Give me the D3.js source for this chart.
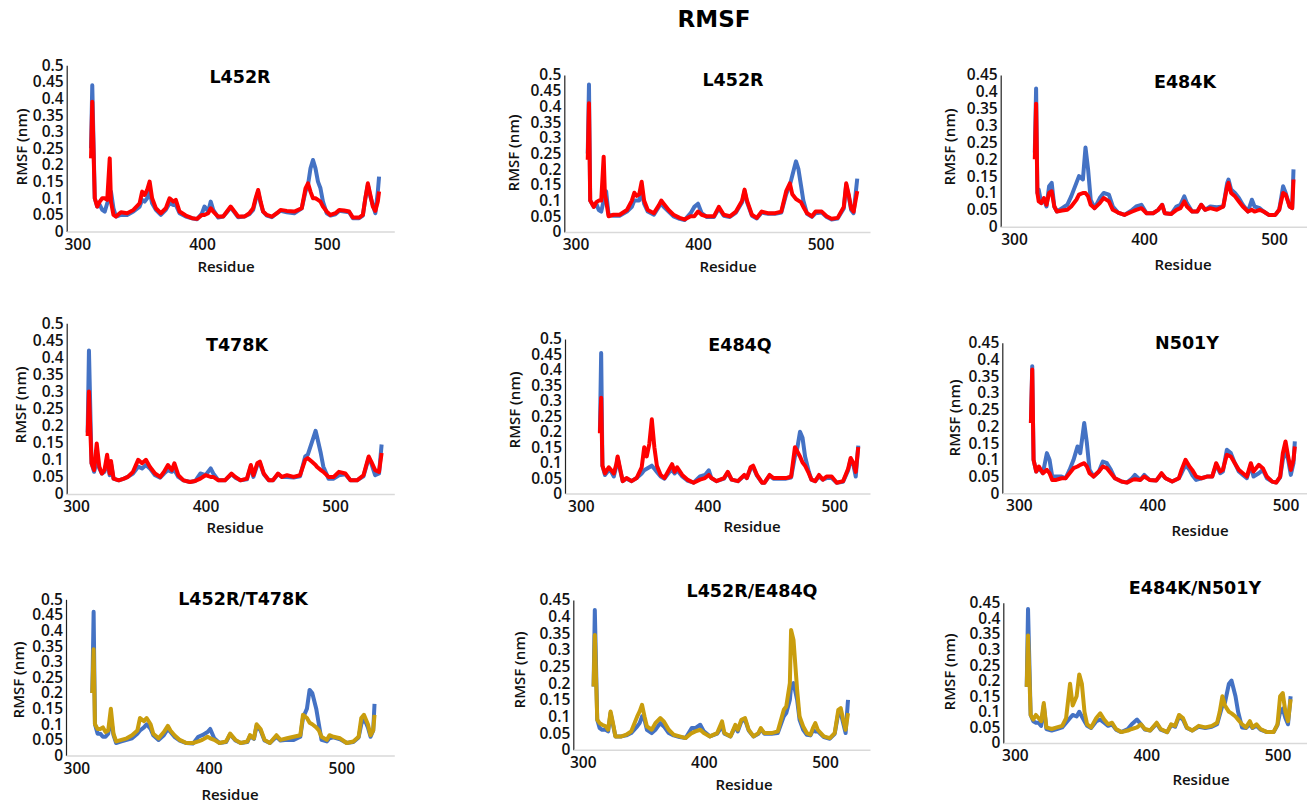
<!DOCTYPE html>
<html>
<head>
<meta charset="utf-8">
<script src="https://cdn.jsdelivr.net/npm/d3@7"></script>
<style>
  body { margin: 0; background: #fff; }
  svg text { font-family: "DejaVu Sans", sans-serif; }
  .tick text, .axis-title { font-family: "Open Sans", sans-serif; font-weight: 600; }
</style>
</head>
<body>
<svg id="chart" width="1307" height="805"></svg>
<script>
// RMSF (nm) per residue. wt = blue, mut = red / gold.

// A: L452R (top left)
const resA = [311,312,314,316,318,320,322,324,326,327,329,331,335,340,345,350,352,354,356,358,360,363,367,371,374,377,379,382,387,392,396,400,402,405,407,409,413,417,420,423,426,429,434,438,441,443,445,447,449,452,456,460,463,468,474,480,483,485,487,489,491,493,495,497,500,503,507,510,514,518,521,526,529,531,533,535,537,539,541,542];
const wtA  = [0.25,0.44,0.10,0.075,0.08,0.065,0.06,0.085,0.10,0.12,0.07,0.045,0.05,0.05,0.06,0.075,0.095,0.09,0.10,0.12,0.085,0.065,0.05,0.065,0.085,0.08,0.08,0.055,0.045,0.04,0.037,0.055,0.075,0.06,0.09,0.065,0.042,0.045,0.058,0.072,0.058,0.043,0.045,0.052,0.065,0.095,0.12,0.085,0.06,0.048,0.043,0.055,0.062,0.058,0.055,0.07,0.12,0.14,0.19,0.215,0.19,0.15,0.13,0.09,0.055,0.048,0.052,0.062,0.06,0.058,0.04,0.04,0.048,0.10,0.14,0.105,0.08,0.055,0.12,0.165];
const mutA = [0.22,0.39,0.10,0.075,0.09,0.10,0.10,0.095,0.22,0.09,0.05,0.045,0.058,0.055,0.065,0.085,0.12,0.11,0.125,0.15,0.10,0.07,0.055,0.07,0.10,0.09,0.095,0.06,0.048,0.04,0.038,0.05,0.05,0.055,0.07,0.06,0.045,0.045,0.06,0.075,0.06,0.045,0.045,0.055,0.07,0.10,0.125,0.09,0.06,0.05,0.045,0.055,0.065,0.062,0.06,0.07,0.13,0.145,0.12,0.10,0.10,0.095,0.09,0.075,0.06,0.05,0.055,0.065,0.063,0.06,0.042,0.042,0.05,0.10,0.145,0.11,0.075,0.062,0.09,0.12];

// B: L452R (top middle)
const resB = [310,311,312,315,317,319,321,323,324,325,327,331,336,342,346,348,350,352,354,356,359,364,368,370,372,376,380,385,389,394,397,400,403,407,413,417,421,426,431,436,438,440,444,448,452,457,463,468,472,475,477,480,482,484,486,489,493,496,501,505,509,514,519,521,523,525,527,530];
const wtB  = [0.25,0.47,0.10,0.08,0.09,0.07,0.065,0.10,0.13,0.13,0.055,0.052,0.052,0.065,0.08,0.10,0.10,0.10,0.13,0.09,0.065,0.055,0.08,0.09,0.08,0.065,0.05,0.042,0.038,0.06,0.08,0.09,0.06,0.048,0.048,0.075,0.052,0.048,0.062,0.095,0.13,0.095,0.052,0.043,0.062,0.058,0.058,0.062,0.12,0.15,0.18,0.225,0.20,0.15,0.10,0.058,0.048,0.06,0.062,0.048,0.04,0.043,0.075,0.15,0.115,0.07,0.06,0.17];
const mutB = [0.23,0.41,0.10,0.08,0.095,0.10,0.10,0.24,0.12,0.10,0.05,0.055,0.055,0.07,0.10,0.125,0.115,0.12,0.16,0.10,0.07,0.06,0.085,0.10,0.09,0.07,0.055,0.045,0.04,0.05,0.05,0.065,0.055,0.05,0.05,0.08,0.055,0.05,0.065,0.10,0.135,0.10,0.055,0.045,0.065,0.06,0.06,0.065,0.13,0.155,0.12,0.105,0.10,0.095,0.08,0.06,0.05,0.065,0.065,0.05,0.042,0.045,0.08,0.155,0.12,0.075,0.065,0.13];

// C: E484K (top right)
const resC = [316,317,318,319,321,323,325,327,329,331,333,337,341,344,348,350,353,355,357,359,362,366,369,373,376,380,385,391,394,398,402,407,411,414,416,421,425,428,431,433,437,441,444,447,451,456,461,464,465,467,470,473,476,480,483,485,489,492,496,501,504,507,509,512,514,515];
const wtC  = [0.22,0.41,0.10,0.11,0.07,0.08,0.06,0.12,0.13,0.06,0.045,0.055,0.065,0.09,0.13,0.15,0.14,0.235,0.17,0.08,0.055,0.085,0.10,0.095,0.06,0.042,0.035,0.05,0.06,0.065,0.04,0.04,0.05,0.065,0.04,0.038,0.06,0.065,0.09,0.07,0.045,0.045,0.065,0.05,0.06,0.058,0.06,0.13,0.14,0.11,0.10,0.085,0.065,0.045,0.08,0.06,0.055,0.045,0.035,0.035,0.05,0.12,0.10,0.06,0.055,0.17];
const mutC = [0.20,0.365,0.10,0.075,0.07,0.085,0.065,0.10,0.105,0.06,0.045,0.048,0.05,0.06,0.08,0.095,0.10,0.10,0.09,0.065,0.055,0.07,0.085,0.075,0.05,0.042,0.035,0.045,0.05,0.055,0.04,0.04,0.05,0.065,0.04,0.038,0.05,0.055,0.075,0.06,0.045,0.045,0.065,0.05,0.055,0.05,0.06,0.12,0.13,0.10,0.09,0.075,0.06,0.045,0.05,0.045,0.05,0.045,0.035,0.035,0.05,0.10,0.095,0.06,0.055,0.14];

// D: T478K (middle left)
const resD = [309,310,312,314,316,318,320,322,324,326,327,329,333,337,340,344,348,351,354,357,361,365,368,371,374,376,379,383,388,392,396,400,404,406,410,415,420,423,427,432,435,437,440,442,445,449,452,456,459,463,468,473,477,479,482,485,486,489,491,495,499,503,508,512,517,522,526,528,531,534,536];
const wtD  = [0.18,0.42,0.09,0.065,0.10,0.075,0.06,0.065,0.10,0.055,0.09,0.045,0.04,0.045,0.05,0.06,0.08,0.075,0.085,0.075,0.055,0.048,0.06,0.07,0.065,0.07,0.05,0.04,0.035,0.038,0.06,0.055,0.075,0.06,0.04,0.04,0.058,0.048,0.04,0.043,0.08,0.05,0.085,0.09,0.058,0.04,0.04,0.058,0.05,0.05,0.048,0.052,0.11,0.115,0.15,0.185,0.17,0.12,0.08,0.045,0.045,0.055,0.058,0.04,0.04,0.052,0.105,0.09,0.055,0.06,0.145];
const mutD = [0.17,0.30,0.09,0.07,0.148,0.08,0.06,0.07,0.115,0.06,0.097,0.045,0.04,0.045,0.05,0.065,0.10,0.09,0.10,0.08,0.06,0.05,0.065,0.085,0.07,0.09,0.055,0.04,0.035,0.038,0.045,0.055,0.05,0.05,0.04,0.04,0.06,0.05,0.04,0.045,0.085,0.055,0.09,0.095,0.06,0.04,0.04,0.06,0.05,0.055,0.05,0.055,0.10,0.105,0.095,0.085,0.08,0.07,0.065,0.05,0.05,0.065,0.06,0.04,0.04,0.055,0.11,0.095,0.07,0.065,0.12];

// E: E484Q (center)
const resE = [315,316,317,319,322,324,326,328,329,331,333,336,340,344,348,350,352,354,356,358,360,363,366,370,372,374,376,380,384,389,394,398,401,403,407,413,416,419,424,429,431,434,436,439,443,445,449,452,457,462,466,469,471,473,475,477,480,482,485,488,491,494,498,502,507,511,513,515,517,519];
const wtE  = [0.20,0.455,0.09,0.06,0.075,0.07,0.055,0.09,0.115,0.075,0.04,0.048,0.04,0.05,0.065,0.075,0.08,0.085,0.09,0.08,0.07,0.055,0.048,0.07,0.075,0.065,0.075,0.055,0.042,0.035,0.055,0.06,0.075,0.05,0.04,0.048,0.068,0.045,0.04,0.058,0.05,0.08,0.085,0.058,0.035,0.035,0.058,0.048,0.048,0.048,0.052,0.12,0.15,0.20,0.18,0.12,0.07,0.045,0.04,0.055,0.045,0.05,0.05,0.035,0.038,0.075,0.11,0.095,0.055,0.155];
const mutE = [0.195,0.31,0.09,0.065,0.085,0.075,0.065,0.095,0.12,0.08,0.04,0.05,0.04,0.05,0.085,0.15,0.12,0.16,0.24,0.15,0.09,0.06,0.05,0.08,0.095,0.07,0.085,0.06,0.045,0.035,0.045,0.05,0.06,0.05,0.04,0.05,0.07,0.045,0.04,0.06,0.05,0.085,0.09,0.06,0.035,0.035,0.06,0.05,0.05,0.05,0.055,0.15,0.135,0.12,0.10,0.09,0.065,0.045,0.04,0.06,0.045,0.055,0.055,0.035,0.04,0.08,0.115,0.10,0.07,0.15];

// F: N501Y (middle right)
const resF = [309,310,311,313,315,318,321,323,325,328,332,335,338,341,344,346,349,351,353,356,360,363,366,369,372,377,381,385,387,391,394,398,403,407,410,415,420,422,425,428,430,433,437,441,445,448,451,453,456,459,462,465,468,471,474,476,480,483,486,490,493,496,498,500,502,504,506,507];
const wtF  = [0.21,0.38,0.10,0.065,0.075,0.06,0.12,0.10,0.05,0.05,0.05,0.045,0.07,0.10,0.14,0.12,0.21,0.15,0.07,0.05,0.065,0.095,0.09,0.07,0.045,0.035,0.032,0.045,0.055,0.04,0.055,0.04,0.038,0.058,0.045,0.035,0.045,0.06,0.085,0.07,0.055,0.04,0.045,0.05,0.05,0.085,0.06,0.065,0.13,0.12,0.09,0.065,0.055,0.045,0.085,0.05,0.06,0.07,0.045,0.035,0.032,0.048,0.10,0.13,0.10,0.055,0.09,0.155];
const mutF = [0.21,0.37,0.10,0.065,0.08,0.06,0.07,0.06,0.04,0.04,0.045,0.045,0.06,0.075,0.08,0.085,0.09,0.08,0.06,0.05,0.065,0.08,0.075,0.06,0.045,0.035,0.032,0.04,0.042,0.04,0.05,0.04,0.038,0.06,0.045,0.035,0.045,0.07,0.10,0.08,0.07,0.05,0.045,0.05,0.05,0.09,0.065,0.07,0.115,0.11,0.09,0.07,0.06,0.05,0.09,0.065,0.085,0.075,0.05,0.035,0.032,0.05,0.12,0.155,0.11,0.07,0.10,0.14];

// G: L452R/T478K (bottom left)
const resG = [312,313,314,316,318,320,322,324,326,328,330,334,338,342,346,348,351,353,356,358,362,366,369,371,374,378,383,388,392,395,399,401,404,408,413,416,420,424,429,431,434,436,439,442,446,451,454,459,464,469,471,474,476,478,481,483,485,489,491,494,499,504,509,513,515,517,520,522,524,525];
const wtG  = [0.20,0.46,0.10,0.07,0.07,0.06,0.06,0.07,0.12,0.065,0.04,0.045,0.05,0.055,0.07,0.08,0.09,0.10,0.085,0.065,0.05,0.065,0.085,0.075,0.06,0.048,0.04,0.038,0.06,0.065,0.075,0.085,0.055,0.04,0.043,0.068,0.048,0.04,0.043,0.062,0.053,0.095,0.08,0.048,0.04,0.06,0.048,0.05,0.05,0.06,0.12,0.15,0.21,0.20,0.15,0.10,0.05,0.045,0.055,0.058,0.052,0.04,0.043,0.058,0.10,0.12,0.09,0.06,0.08,0.165];
const mutG = [0.20,0.34,0.10,0.085,0.085,0.09,0.075,0.08,0.15,0.07,0.045,0.05,0.055,0.065,0.08,0.12,0.11,0.12,0.10,0.07,0.055,0.075,0.095,0.08,0.065,0.05,0.04,0.04,0.045,0.05,0.06,0.055,0.05,0.04,0.045,0.07,0.05,0.04,0.045,0.065,0.055,0.10,0.085,0.05,0.04,0.065,0.05,0.055,0.06,0.065,0.13,0.12,0.105,0.10,0.09,0.08,0.06,0.05,0.065,0.06,0.055,0.04,0.045,0.06,0.12,0.13,0.10,0.065,0.08,0.13];

// H: L452R/E484Q (bottom middle)
const resH = [309,310,312,314,316,319,321,323,325,327,332,336,340,345,347,349,351,353,357,360,364,367,371,375,380,385,390,393,397,400,405,411,415,417,422,426,428,431,434,437,441,445,447,450,456,461,466,468,471,472,474,477,479,482,485,488,490,492,494,499,504,508,511,513,515,517,519];
const wtH  = [0.19,0.42,0.09,0.065,0.06,0.06,0.055,0.11,0.075,0.04,0.04,0.043,0.05,0.07,0.08,0.10,0.09,0.06,0.05,0.06,0.08,0.07,0.05,0.043,0.038,0.035,0.065,0.065,0.075,0.055,0.04,0.048,0.07,0.048,0.04,0.07,0.055,0.085,0.09,0.058,0.04,0.048,0.062,0.048,0.048,0.05,0.10,0.11,0.15,0.19,0.20,0.15,0.09,0.06,0.045,0.043,0.058,0.055,0.055,0.038,0.033,0.048,0.11,0.11,0.08,0.05,0.15];
const mutH = [0.19,0.345,0.09,0.08,0.075,0.07,0.06,0.115,0.08,0.04,0.04,0.045,0.055,0.10,0.115,0.135,0.10,0.07,0.06,0.08,0.095,0.085,0.06,0.045,0.04,0.035,0.05,0.055,0.06,0.05,0.04,0.05,0.085,0.05,0.04,0.075,0.06,0.09,0.095,0.06,0.04,0.05,0.065,0.05,0.05,0.055,0.12,0.13,0.20,0.36,0.33,0.18,0.10,0.07,0.05,0.045,0.065,0.08,0.06,0.04,0.035,0.05,0.12,0.125,0.09,0.06,0.11];

// I: E484K/N501Y (bottom right)
const resI = [309,310,312,314,316,318,320,322,324,328,332,336,339,342,344,347,349,351,353,355,358,362,365,368,371,374,377,381,386,389,393,396,399,403,408,411,416,419,422,425,428,431,435,440,445,450,454,456,458,460,463,465,468,470,473,476,479,481,484,487,492,497,500,502,504,506,508,510];
const wtI  = [0.18,0.43,0.09,0.07,0.065,0.065,0.055,0.12,0.045,0.04,0.045,0.05,0.065,0.08,0.09,0.085,0.10,0.085,0.07,0.055,0.048,0.07,0.075,0.065,0.055,0.06,0.043,0.035,0.045,0.06,0.075,0.06,0.043,0.04,0.062,0.043,0.035,0.058,0.052,0.085,0.075,0.048,0.04,0.052,0.048,0.052,0.06,0.09,0.12,0.13,0.19,0.20,0.15,0.10,0.05,0.048,0.06,0.048,0.055,0.043,0.035,0.035,0.058,0.10,0.11,0.08,0.06,0.15];
const mutI = [0.18,0.345,0.09,0.075,0.09,0.08,0.07,0.128,0.05,0.045,0.05,0.055,0.08,0.19,0.12,0.15,0.22,0.19,0.10,0.06,0.05,0.08,0.095,0.075,0.06,0.065,0.045,0.035,0.04,0.045,0.05,0.06,0.045,0.04,0.065,0.045,0.035,0.06,0.055,0.09,0.08,0.05,0.04,0.055,0.05,0.055,0.065,0.10,0.15,0.12,0.10,0.095,0.085,0.075,0.06,0.05,0.07,0.05,0.06,0.045,0.035,0.035,0.06,0.15,0.16,0.10,0.07,0.14];

const xTicks = [300, 400, 500];
const blue = '#4472c4';
const red = '#ff0000';
const gold = '#c99d0e';

// panel layout in page pixels
const panels = [
  {title: 'L452R', res: resA, wt: wtA, mut: mutA, color: red, yMax: 0.5, left: 66.7, right: 394.3, y0: 231.5, yTop: 65.3, x300: 77.3, x500: 326.7, tx: 240, ty: 77, rx: 226, ry: 267, lx: 22, ly: 147},
  {title: 'L452R', res: resB, wt: wtB, mut: mutB, color: red, yMax: 0.5, left: 564.3, right: 870, y0: 232, yTop: 75, x300: 575.5, x500: 820.5, tx: 733, ty: 80, rx: 728, ry: 267, lx: 514, ly: 153},
  {title: 'E484K', res: resC, wt: wtC, mut: mutC, color: red, yMax: 0.45, left: 1000.7, right: 1307, y0: 226.7, yTop: 75, x300: 1014, x500: 1274, tx: 1185, ty: 82, rx: 1183, ry: 265, lx: 950, ly: 147},
  {title: 'T478K', res: resD, wt: wtD, mut: mutD, color: red, yMax: 0.5, left: 66.7, right: 394.3, y0: 494, yTop: 323.3, x300: 76, x500: 335, tx: 237, ty: 345, rx: 235, ry: 528, lx: 21, ly: 405},
  {title: 'E484Q', res: resE, wt: wtE, mut: mutE, color: red, yMax: 0.5, left: 565, right: 870, y0: 493.5, yTop: 339, x300: 580.9, x500: 834.2, tx: 740, ty: 345, rx: 752, ry: 527, lx: 515, ly: 410},
  {title: 'N501Y', res: resF, wt: wtF, mut: mutF, color: red, yMax: 0.45, left: 1002.3, right: 1307, y0: 493.3, yTop: 342.7, x300: 1018.9, x500: 1285.5, tx: 1187, ty: 343, rx: 1200, ry: 531, lx: 955, ly: 418},
  {title: 'L452R/T478K', res: resG, wt: wtG, mut: mutG, color: gold, yMax: 0.5, left: 66, right: 394.3, y0: 755.5, yTop: 599.3, x300: 76.4, x500: 341.4, tx: 243, ty: 599, rx: 230, ry: 795, lx: 19, ly: 680},
  {title: 'L452R/E484Q', res: resH, wt: wtH, mut: mutH, color: gold, yMax: 0.45, left: 573.3, right: 870, y0: 749.7, yTop: 600, x300: 582.7, x500: 825, tx: 752, ty: 591, rx: 744, ry: 785, lx: 520, ly: 670},
  {title: 'E484K/N501Y', res: resI, wt: wtI, mut: mutI, color: gold, yMax: 0.45, left: 1003.3, right: 1307, y0: 743, yTop: 602.7, x300: 1014.9, x500: 1277.5, tx: 1195, ty: 588, rx: 1201, ry: 780, lx: 950, ly: 672}
];

const svg = d3.select('#chart');

svg.append('text')
  .attr('x', 714)
  .attr('y', 19)
  .attr('dy', '0.35em')
  .attr('text-anchor', 'middle')
  .style('font-size', '23px')
  .style('font-weight', 'bold')
  .text('RMSF');

panels.forEach(p => {
  const g = svg.append('g');

  const x = d3.scaleLinear().domain([300, 500]).range([p.x300, p.x500]);
  x.domain([x.invert(p.left), x.invert(p.right)]).range([p.left, p.right]);

  const y = d3.scaleLinear().domain([0, p.yMax]).range([p.y0, p.yTop]);
  const yTicks = d3.range(0, p.yMax + 0.001, 0.05);

  const yAxis = g.append('g')
    .attr('transform', `translate(${p.left},0)`)
    .call(d3.axisLeft(y).tickValues(yTicks).tickSize(0).tickSizeOuter(0).tickPadding(3)
      .tickFormat(d => String(+d.toFixed(2))));
  yAxis.select('.domain').attr('stroke', '#222').attr('stroke-width', 1.2);
  yAxis.selectAll('text').attr('font-size', null).attr('font-family', null)
    .style('font-size', '15.5px').attr('fill', '#111');

  const xAxis = g.append('g')
    .attr('transform', `translate(0,${p.y0})`)
    .call(d3.axisBottom(x).tickValues(xTicks).tickSize(0).tickSizeOuter(0).tickPadding(7));
  xAxis.select('.domain').attr('stroke', '#d9d9d9').attr('stroke-width', 1.5);
  xAxis.selectAll('text').attr('font-size', null).attr('font-family', null)
    .style('font-size', '15.5px').attr('fill', '#111');

  const line = d3.line()
    .x(d => x(d[0]))
    .y(d => y(d[1]));

  g.append('path')
    .attr('fill', 'none')
    .attr('stroke', blue)
    .attr('stroke-width', 4)
    .attr('stroke-linejoin', 'round')
    .attr('d', line(d3.zip(p.res, p.wt)));

  g.append('path')
    .attr('fill', 'none')
    .attr('stroke', p.color)
    .attr('stroke-width', 4)
    .attr('stroke-linejoin', 'round')
    .attr('d', line(d3.zip(p.res, p.mut)));

  g.append('text')
    .attr('x', p.tx)
    .attr('y', p.ty)
    .attr('dy', '0.35em')
    .attr('text-anchor', 'middle')
    .style('font-size', '17.5px')
    .style('font-weight', 'bold')
    .text(p.title);

  g.append('text')
    .attr('class', 'axis-title')
    .attr('x', p.rx)
    .attr('y', p.ry)
    .attr('dy', '0.35em')
    .attr('text-anchor', 'middle')
    .style('font-size', '15px')
    .attr('fill', '#111')
    .text('Residue');

  g.append('text')
    .attr('class', 'axis-title')
    .attr('transform', `translate(${p.lx},${p.ly}) rotate(-90)`)
    .attr('dy', '0.35em')
    .attr('text-anchor', 'middle')
    .style('font-size', '15px')
    .attr('fill', '#111')
    .text('RMSF (nm)');
});
</script>
</body>
</html>
